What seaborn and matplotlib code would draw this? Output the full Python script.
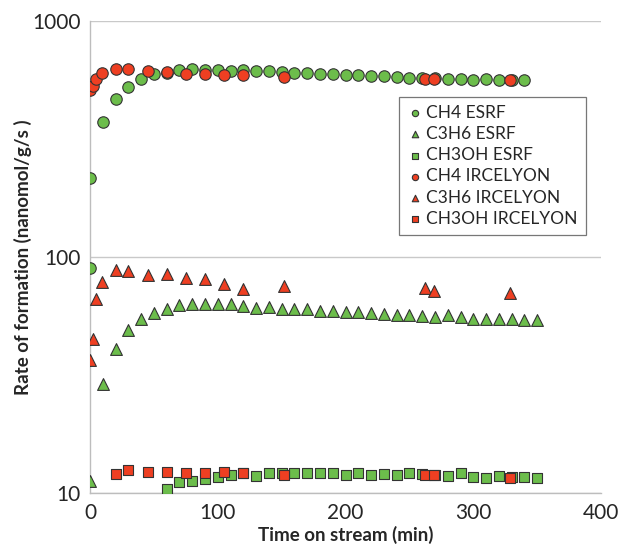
import numpy as np
import pandas as pd
import matplotlib
matplotlib.use("Agg")
from matplotlib import pyplot as plt
from matplotlib.ticker import FixedLocator, FuncFormatter, NullLocator
import seaborn as sns

# time grids
t_esrf = [0, 0, 10, 20, 30, 40, 50, 60, 70, 80, 90, 100, 110, 120, 130, 140, 150, 160, 170,
          180, 190, 200, 210, 220, 230, 240, 250, 260, 270, 280, 290, 300, 310, 320, 330, 340]
ch4_esrf = [90, 215, 373, 468, 524, 565, 593, 600, 617, 625, 617, 617, 611, 617, 611, 611, 605,
            600, 598, 596, 594, 590, 588, 584, 582, 579, 574, 573, 571, 567, 567, 563, 567, 563,
            561, 560]

t_c3h6_esrf = [0, 10, 20, 30, 40, 50, 60, 70, 80, 90, 100, 110, 120, 130, 140, 150, 160, 170, 180,
               190, 200, 210, 220, 230, 240, 250, 260, 270, 280, 290, 300, 310, 320, 330, 340, 350]
c3h6_esrf = [11.2, 29, 40.8, 49, 54.7, 57.8, 60.3, 62.3, 63, 63, 63, 63, 62, 61, 61.4, 60, 60,
             60.3, 58.8, 58.8, 58.6, 58.4, 58, 57.4, 56.5, 57, 56, 55.8, 56.5, 55.6, 54.7, 54.7,
             54.7, 54.7, 53.8, 53.8]

t_ch3oh_esrf = [60, 70, 80, 90, 100, 110, 120, 130, 140, 150, 160, 170, 180, 190, 200, 210, 220,
                230, 240, 250, 260, 270, 280, 290, 300, 310, 320, 330, 340, 350]
ch3oh_esrf = [10.4, 11.1, 11.2, 11.5, 11.7, 11.9, 12.1, 11.85, 12.1, 12.1, 12.2, 12.2, 12.2, 12.1,
              11.9, 12.1, 11.9, 12.0, 11.9, 12.1, 12.0, 11.9, 11.85, 12.1, 11.7, 11.6, 11.85, 11.7,
              11.7, 11.6]

t_irce = [0, 2, 5, 9, 20, 30, 45, 60, 75, 90, 105, 120, 152, 262, 269, 329]
ch4_irce = [511, 527, 567, 600, 623, 623, 611, 608, 597, 597, 589, 589, 580, 567, 567, 563]
c3h6_irce = [36.7, 45, 66, 78, 88, 87, 84, 85, 81, 80.7, 77, 73, 75, 73.6, 71.7, 70]

t_ch3oh_irce = [20, 30, 45, 60, 75, 90, 105, 120, 152, 262, 269, 329]
ch3oh_irce = [12.0, 12.5, 12.3, 12.3, 12.1, 12.1, 12.3, 12.2, 11.9, 11.9, 11.9, 11.6]

green = "#6cbd4b"
red = "#ee3f22"

series = [
    ("CH4 ESRF", t_esrf, ch4_esrf, "o", green, 68),
    ("C3H6 ESRF", t_c3h6_esrf, c3h6_esrf, "^", green, 72),
    ("CH3OH ESRF", t_ch3oh_esrf, ch3oh_esrf, "s", green, 60),
    ("CH4 IRCELYON", t_irce, ch4_irce, "o", red, 68),
    ("C3H6 IRCELYON", t_irce, c3h6_irce, "^", red, 72),
    ("CH3OH IRCELYON", t_ch3oh_irce, ch3oh_irce, "s", red, 60),
]

sns.set_style("white")
plt.rcParams['font.family'] = ['Lato', 'DejaVu Sans']

fig = plt.figure(figsize=(6.2, 5.5), dpi=100)
ax = fig.add_axes([0.1452, 0.1036, 0.8242, 0.8588])

for name, t, v, m, c, s in series:
    df = pd.DataFrame({'t': t, 'v': v})
    sns.scatterplot(data=df, x='t', y='v', marker=m, color=c, s=s, edgecolor='#333333',
                    linewidth=0.8, ax=ax, label=name, zorder=3)

ax.set_yscale('log')
ax.set_ylim(10, 1000)
ax.set_xlim(0, 400)
ax.yaxis.set_major_locator(FixedLocator([10, 100, 1000]))
ax.yaxis.set_minor_locator(NullLocator())
ax.yaxis.set_major_formatter(FuncFormatter(lambda v, p: f"{int(v)}"))
ax.set_xticks([0, 100, 200, 300, 400])

ax.grid(axis='y', color='#c9c9c9', linewidth=1.0)
ax.set_axisbelow(True)
for side in ['top', 'right']:
    ax.spines[side].set_visible(False)
for side in ['left', 'bottom']:
    ax.spines[side].set_color('#bdbdbd')
    ax.spines[side].set_linewidth(1.0)
ax.tick_params(axis='x', direction='inout', length=8, color='#bdbdbd', labelsize=15, pad=3)
ax.tick_params(axis='y', direction='out', length=3, color='#bdbdbd', labelsize=15, pad=4)

ax.set_xlabel('Time on stream (min)', fontsize=13.5, fontweight='bold', labelpad=2)
ax.set_ylabel('Rate of formation (nanomol/g/s )', fontsize=13.5, fontweight='bold', labelpad=0)

leg = ax.legend(loc='upper left', bbox_to_anchor=(0.587, 0.857), fontsize=12.5,
                frameon=True, fancybox=False, markerscale=0.55, handletextpad=0.15,
                borderpad=0.45, labelspacing=0.3, handlelength=1.0)
leg.get_frame().set_edgecolor('#555555')
leg.get_frame().set_linewidth(0.9)

fig.savefig('out.png', dpi=100)
